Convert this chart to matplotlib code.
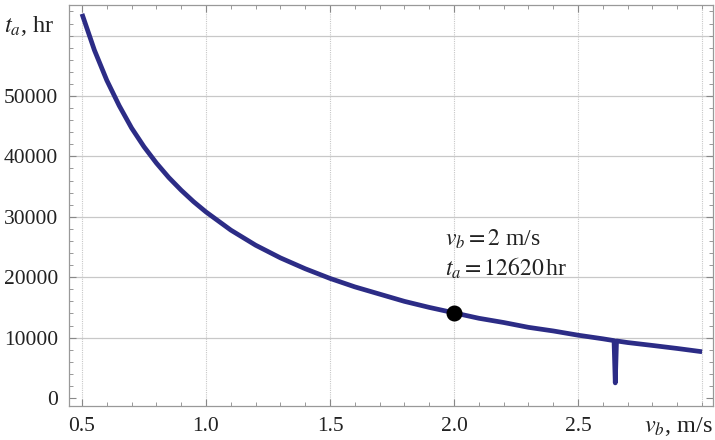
import matplotlib
matplotlib.use('Agg')
import matplotlib.pyplot as plt
from matplotlib.ticker import MultipleLocator

# speed v_b (m/s) and operating time t_a (hr)
v_b = [0.5, 0.55, 0.6, 0.65, 0.7, 0.75, 0.8, 0.85, 0.9, 0.95,
       1.0, 1.1, 1.2, 1.3, 1.4, 1.5, 1.6, 1.7, 1.8, 1.9,
       2.0, 2.1, 2.2, 2.3, 2.4, 2.5, 2.6, 2.645, 2.65, 2.655,
       2.7, 2.8, 2.9, 3.0]
t_a = [63600, 57600, 52600, 48400, 44700, 41600, 38900, 36500, 34400, 32500,
       30800, 27800, 25300, 23200, 21400, 19800, 18400, 17200, 16000, 15000,
       14100, 13200, 12500, 11700, 11100, 10400, 9800, 9500, 2500, 9450,
       9180, 8700, 8200, 7660]

mark_v = 2.0
mark_t = 14100
x_ticks = [0.5, 1.0, 1.5, 2.0, 2.5]
y_ticks = [0, 10000, 20000, 30000, 40000, 50000]

plt.rcParams['font.family'] = ['Liberation Serif', 'DejaVu Serif']
plt.rcParams['mathtext.fontset'] = 'stix'

fig = plt.figure(figsize=(7.15, 4.4), dpi=100)
ax = fig.add_axes([69 / 715, 34 / 440, 644 / 715, 401 / 440])

ax.plot(v_b, t_a, color='#2c2c86', lw=3.4, solid_joinstyle='round',
        solid_capstyle='butt', zorder=3)
ax.plot([mark_v], [mark_t], 'o', color='black', ms=10.5, zorder=4)

ax.text(1.962, 26200, r'$v_b = 2$ m/s', fontsize=17, color='#222222',
        va='center')
ax.text(1.962, 21500, r'$t_a = 12620\,$hr', fontsize=17, color='#222222',
        va='center')

ax.set_xlim(0.4476, 3.044)
ax.set_ylim(-1325, 65070)
ax.set_xticks(x_ticks)
ax.set_xticklabels(['%.1f' % x for x in x_ticks])
ax.set_yticks(y_ticks)
ax.set_yticklabels([str(y) for y in y_ticks])
ax.xaxis.set_minor_locator(MultipleLocator(0.1))
ax.yaxis.set_minor_locator(MultipleLocator(2000))

# grid lines, including 3.0 and 60000 that have no label
for x in [0.5, 1.0, 1.5, 2.0, 2.5, 3.0]:
    ax.axvline(x, color='#c8c8c8', lw=0.8, ls=(0, (1, 1)), zorder=1)
for y in [10000, 20000, 30000, 40000, 50000, 60000]:
    ax.axhline(y, color='#c8c8c8', lw=0.9, zorder=1)

ax.tick_params(which='both', direction='in', top=True, right=True,
               colors='#888888', labelcolor='#222222', labelsize=15.5)
ax.tick_params(which='major', length=5, width=0.8)
ax.tick_params(which='minor', length=3, width=0.6)
ax.tick_params(axis='x', pad=8)
ax.tick_params(axis='y', pad=8)
for s in ax.spines.values():
    s.set_color('#999999')
    s.set_linewidth(0.9)

fig.text(4 / 715, 1 - 26 / 440, r'$t_a$, hr', fontsize=17.5, color='#222222',
         va='center', ha='left')
fig.text(713 / 715, 1 - 426 / 440, r'$v_b$, m/s', fontsize=17.5, color='#222222',
         va='center', ha='right')

fig.savefig('out.png', dpi=100)
